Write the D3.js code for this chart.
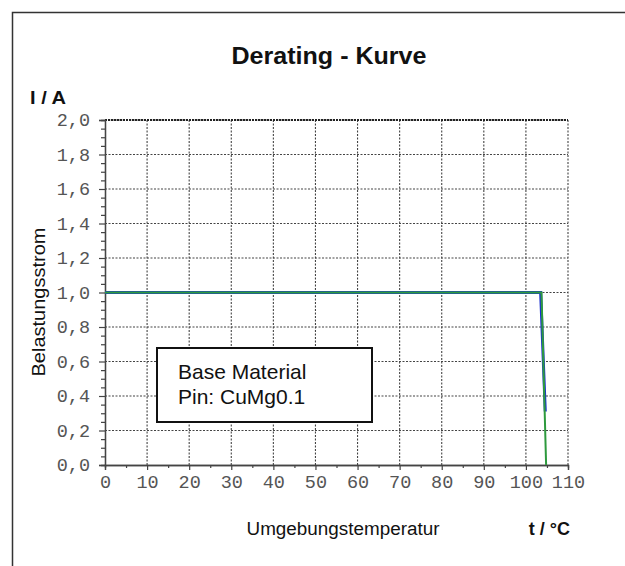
<!DOCTYPE html>
<html><head><meta charset="utf-8">
<script src="https://cdn.jsdelivr.net/npm/d3@7"></script>
<style>body{margin:0;background:#fff;}svg{display:block;}</style>
</head><body>
<svg id="c" width="625" height="566"></svg>
<script>
const xTicks = [0,10,20,30,40,50,60,70,80,90,100,110];
const yTicks = [0,0.2,0.4,0.6,0.8,1.0,1.2,1.4,1.6,1.8,2.0];
const blueX = [0, 103.5, 104.6];
const blueY = [1.0, 1.0, 0.31];
const greenX = [0, 103.7, 104.8];
const greenY = [1.0, 1.0, 0.0];
const noteLines = ["Base Material", "Pin: CuMg0.1"];

const svg = d3.select("#c");
const x = d3.scaleLinear().domain([0,110]).range([105,568]);
const y = d3.scaleLinear().domain([0,2]).range([465,120]);
const fmt = d => d3.format(".1f")(d).replace(".", ",");
const sans = "'Liberation Sans', Arial, sans-serif";
const mono = "'Liberation Mono', 'DejaVu Sans Mono', monospace";

// outer frame
svg.append("path").attr("d","M12.5,566 L12.5,12.5 L625,12.5").attr("fill","none").attr("stroke","#333").attr("stroke-width",1.5);

// grid
const g = svg.append("g");
g.selectAll(".vg").data(xTicks.slice(1)).join("line")
  .attr("x1",d=>x(d)).attr("x2",d=>x(d)).attr("y1",y(0)).attr("y2",y(2))
  .attr("stroke","#444").attr("stroke-width",1.1).attr("stroke-dasharray","2,1.5");
g.selectAll(".hg").data(yTicks.slice(1)).join("line")
  .attr("y1",d=>y(d)).attr("y2",d=>y(d)).attr("x1",x(0)).attr("x2",x(110))
  .attr("stroke","#444").attr("stroke-width",1.1).attr("stroke-dasharray","2,1.5");
g.append("line").attr("x1",x(0)).attr("x2",x(110)).attr("y1",y(2)).attr("y2",y(2))
  .attr("stroke","#222").attr("stroke-width",2).attr("stroke-dasharray","2,1");

// axes
const xAxis = d3.axisBottom(x).tickValues(xTicks).tickSize(5).tickFormat(d=>d);
const xMinor = d3.axisBottom(x).tickValues(d3.range(5,110,10)).tickSize(3).tickFormat("");
const yAxis = d3.axisLeft(y).tickValues(yTicks).tickSize(6).tickFormat(fmt);
const yMinor = d3.axisLeft(y).tickValues(d3.range(0.05,2,0.05).filter(v=>Math.abs(v*5-Math.round(v*5))>1e-6)).tickSize(4).tickFormat("");

function style(sel){
  sel.select(".domain").attr("stroke","#444").attr("stroke-width",1.3);
  sel.selectAll(".tick line").attr("stroke","#444").attr("stroke-width",1.2);
  sel.selectAll(".tick text").attr("font-family",mono)
    .attr("font-size",18.5).attr("fill","#555");
}
svg.append("g").attr("transform",`translate(0,${y(0)})`).call(xMinor).call(style);
svg.append("g").attr("transform",`translate(0,${y(0)})`).call(xAxis).call(style)
  .selectAll(".tick text").attr("y",10).attr("dy","0.71em");
svg.append("g").attr("transform",`translate(${x(0)},0)`).call(yMinor).call(style);
svg.append("g").attr("transform",`translate(${x(0)},0)`).call(yAxis).call(style)
  .selectAll(".tick text").attr("x",-15);

// lines
const line = d3.line().x(d=>x(d[0])).y(d=>y(d[1]));
svg.append("path").datum(blueX.map((v,i)=>[v,blueY[i]])).attr("d",line)
  .attr("fill","none").attr("stroke","#1a2fd0").attr("stroke-width",3);
svg.append("path").datum(greenX.map((v,i)=>[v,greenY[i]])).attr("d",line)
  .attr("fill","none").attr("stroke","#2e9a3e").attr("stroke-width",2);

// note box
svg.append("rect").attr("x",157).attr("y",348).attr("width",215).attr("height",74)
  .attr("fill","#fff").attr("stroke","#111").attr("stroke-width",2);
svg.selectAll(".note").data(noteLines).join("text")
  .attr("x",178).attr("y",(d,i)=>379+i*25)
  .attr("font-family",sans).attr("font-size",21).attr("fill","#111")
  .text(d=>d);

// titles
svg.append("text").attr("x",329).attr("y",64).attr("text-anchor","middle")
  .attr("font-family",sans).attr("font-weight","bold").attr("font-size",23)
  .attr("textLength",195).attr("lengthAdjust","spacingAndGlyphs").attr("fill","#111").text("Derating - Kurve");
svg.append("text").attr("x",30).attr("y",104)
  .attr("font-family",sans).attr("font-weight","bold").attr("font-size",19)
  .attr("textLength",36).attr("lengthAdjust","spacingAndGlyphs").attr("fill","#111").text("I / A");
svg.append("text").attr("transform","translate(45,302) rotate(-90)").attr("text-anchor","middle")
  .attr("font-family",sans).attr("font-size",18).attr("textLength",149).attr("lengthAdjust","spacingAndGlyphs")
  .attr("fill","#111").text("Belastungsstrom");
svg.append("text").attr("x",343).attr("y",535).attr("text-anchor","middle")
  .attr("font-family",sans).attr("font-size",18).attr("textLength",193).attr("lengthAdjust","spacingAndGlyphs")
  .attr("fill","#111").text("Umgebungstemperatur");
svg.append("text").attr("x",570).attr("y",535).attr("text-anchor","end")
  .attr("font-family",sans).attr("font-weight","bold").attr("font-size",18)
  .attr("fill","#111").text("t / °C");
</script>
</body></html>
